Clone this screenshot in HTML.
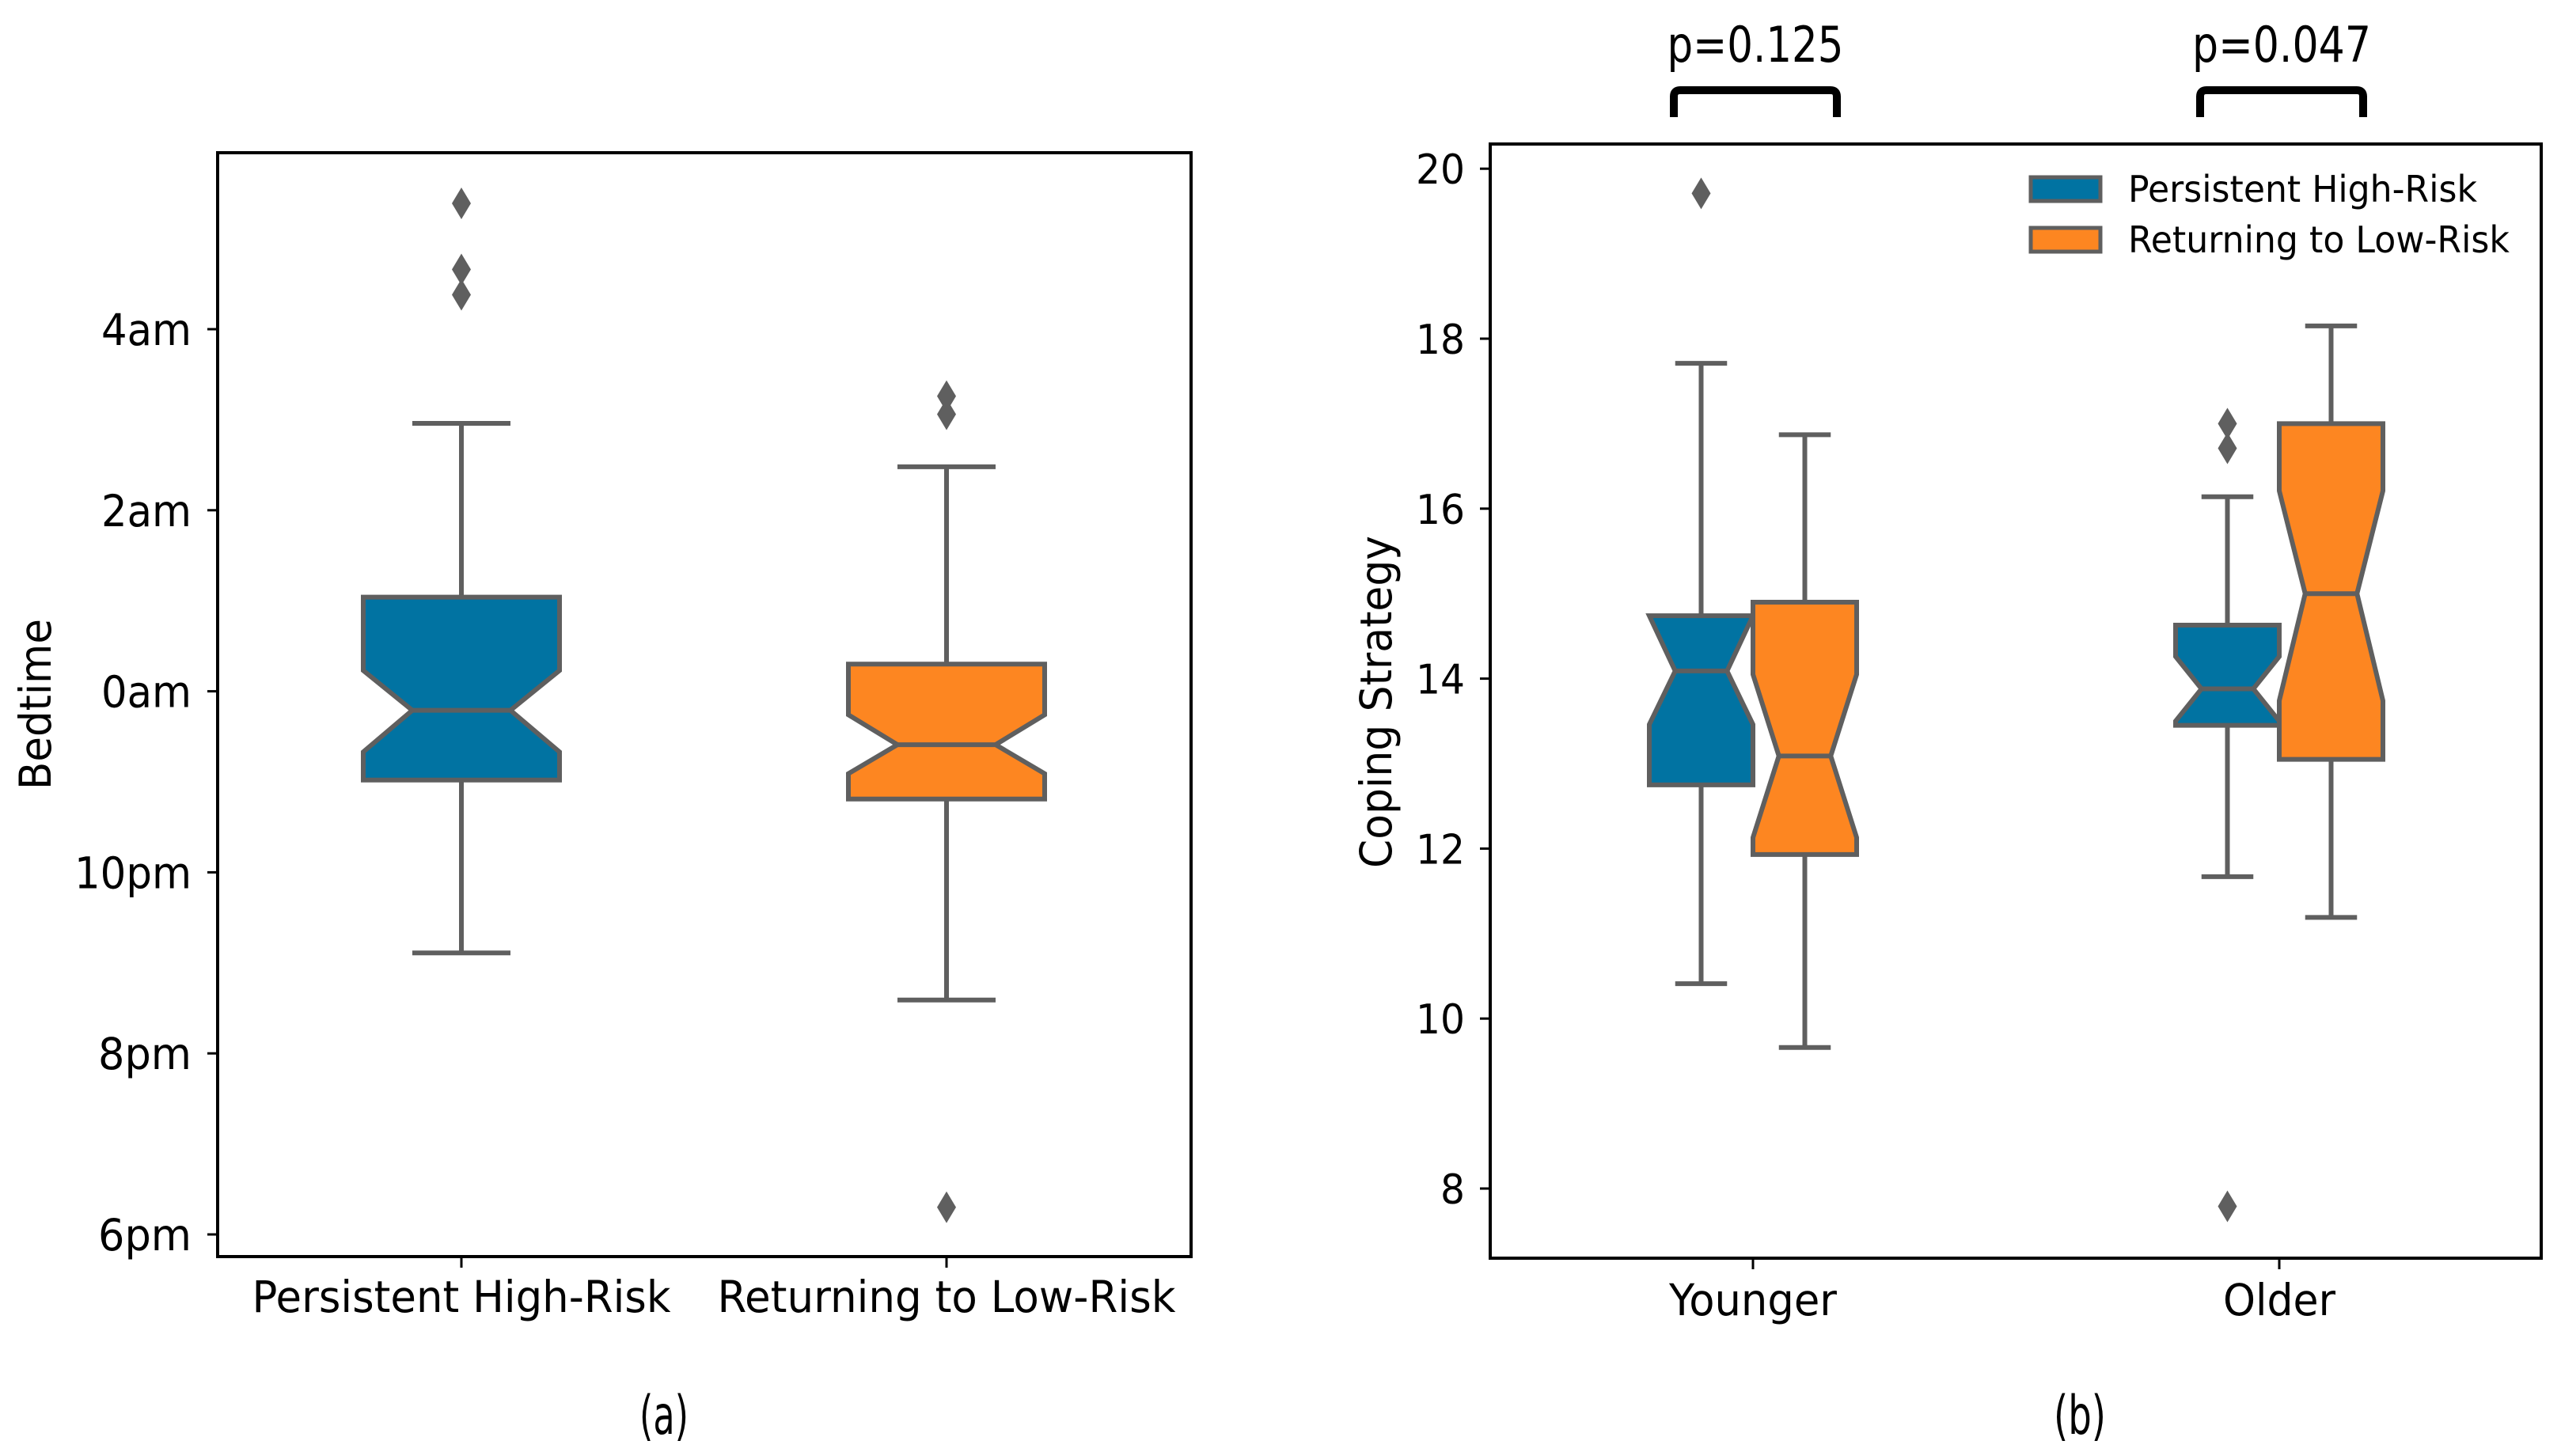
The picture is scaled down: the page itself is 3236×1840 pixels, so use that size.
<!DOCTYPE html>
<html><head><meta charset="utf-8"><style>
html,body{margin:0;padding:0;background:#fff;}
svg{display:block;}
text{font-family:"DejaVu Sans","Liberation Sans",sans-serif;fill:#000;}
</style></head><body>
<svg id="fig" width="3236" height="1840" viewBox="0 0 3236 1840" xmlns="http://www.w3.org/2000/svg">
<rect width="3236" height="1840" fill="#fff"/>
<g id="panelA"></g>
<g id="panelB"></g>
</svg>
<script>
// ---- Panel (a) data: bedtime in hours relative to midnight ----
const aCategories = ["Persistent High-Risk", "Returning to Low-Risk"];
const aQ1 = [-0.98, -1.19];
const aQ3 = [1.04, 0.30];
const aMedian = [-0.21, -0.59];
const aNotchLo = [-0.67, -0.91];
const aNotchHi = [0.23, -0.26];
const aWhiskLo = [-2.89, -3.41];
const aWhiskHi = [2.96, 2.48];
const aFliers = [[5.39, 4.66, 4.38], [3.26, 3.06, -5.70]];
const aTickVals = [4, 2, 0, -2, -4, -6];
const aTickLabels = ["4am", "2am", "0am", "10pm", "8pm", "6pm"];
const aTickWidths = [114, 114, 114, 148, 118, 118];

// ---- Panel (b) data: coping strategy ----
const bGroups = ["Younger", "Older"];
const bSeries = ["Persistent High-Risk", "Returning to Low-Risk"];
const bQ1 = [[12.75, 13.45], [11.93, 13.05]];
const bQ3 = [[14.74, 14.63], [14.90, 17.00]];
const bMedian = [[14.09, 13.88], [13.09, 15.00]];
const bNotchLo = [[13.46, 13.50], [12.13, 13.74]];
const bNotchHi = [[14.74, 14.26], [14.05, 16.21]];
const bWhiskLo = [[10.41, 11.67], [9.66, 11.19]];
const bWhiskHi = [[17.71, 16.14], [16.87, 18.15]];
const bFliers = [[[19.71], [17.0, 16.71, 7.79]], [[], []]];
const bTickVals = [8, 10, 12, 14, 16, 18, 20];
const bTickLabels = ["8", "10", "12", "14", "16", "18", "20"];
const bPValues = ["p=0.125", "p=0.047"];

const COLORS = ["#0173a2", "#fd8621"];
const EDGE = "#5f5f5f";
const NS = "http://www.w3.org/2000/svg";

function mk(tag, attrs, parent) {
  const e = document.createElementNS(NS, tag);
  for (const k in attrs) e.setAttribute(k, attrs[k]);
  parent.appendChild(e);
  return e;
}
function txt(s, attrs, parent) {
  const t = mk("text", attrs, parent);
  t.textContent = s;
  return t;
}

function drawBox(g, cx, w, q1, q3, med, nlo, nhi, wlo, whi, fl, color, yf, name) {
  const bg = mk("g", {}, g);
  
  
  const x0 = cx - w / 2, x1 = cx + w / 2, xi0 = cx - w / 4, xi1 = cx + w / 4;
  const lo = Math.max(nlo, q1), hi = Math.min(nhi, q3);
  // whiskers
  const wl = mk("line", {x1: cx, x2: cx, y1: yf(q1), y2: yf(wlo), stroke: EDGE, "stroke-width": 6}, bg);
  
  
  const wh = mk("line", {x1: cx, x2: cx, y1: yf(q3), y2: yf(whi), stroke: EDGE, "stroke-width": 6}, bg);
  
  
  const c1 = mk("line", {x1: cx - w / 4, x2: cx + w / 4, y1: yf(wlo), y2: yf(wlo), stroke: EDGE, "stroke-width": 6}, bg);
  
  
  const c2 = mk("line", {x1: cx - w / 4, x2: cx + w / 4, y1: yf(whi), y2: yf(whi), stroke: EDGE, "stroke-width": 6}, bg);
  
  
  // notched box
  const pts = [
    [x0, yf(q1)], [x0, yf(lo)], [xi0, yf(med)], [x0, yf(hi)], [x0, yf(q3)],
    [x1, yf(q3)], [x1, yf(hi)], [xi1, yf(med)], [x1, yf(lo)], [x1, yf(q1)]
  ].map(p => p.join(",")).join(" ");
  const poly = mk("polygon", {points: pts, fill: color, stroke: EDGE, "stroke-width": 6, "stroke-linejoin": "miter"}, bg);
  
  
  const m = mk("line", {x1: xi0, x2: xi1, y1: yf(med), y2: yf(med), stroke: EDGE, "stroke-width": 6}, bg);
  
  
  fl.forEach(v => {
    const y = yf(v);
    const d = mk("polygon", {points: `${cx},${y - 20} ${cx + 12},${y} ${cx},${y + 20} ${cx - 12},${y}`, fill: EDGE}, bg);
    
    
  });
}

// ================= Panel A =================
(function () {
  const g = document.getElementById("panelA");
  const L = 275, R = 1505, T = 193, B = 1588;
  const y0 = 873.6, hourPx = 114.4;
  const yf = h => y0 - h * hourPx;
  const xCenters = [583, 1196];
  const boxW = 248;
  for (let i = 0; i < aCategories.length; i++) {
    drawBox(g, xCenters[i], boxW, aQ1[i], aQ3[i], aMedian[i], aNotchLo[i], aNotchHi[i],
      aWhiskLo[i], aWhiskHi[i], aFliers[i], COLORS[i], yf, "box-" + (i === 0 ? "persistent-high-risk" : "returning-to-low-risk"));
  }
  const fr = mk("rect", {x: L, y: T, width: R - L, height: B - T, fill: "none", stroke: "#000", "stroke-width": 4}, g);
  
  
  aTickVals.forEach((v, i) => {
    const y = yf(v);
    const tk = mk("line", {x1: L - 13, x2: L, y1: y, y2: y, stroke: "#000", "stroke-width": 3}, g);
    
    
    const t = txt(aTickLabels[i], {x: 242, y: y + 20, "text-anchor": "end", "font-size": 55, textLength: aTickWidths[i], lengthAdjust: "spacingAndGlyphs"}, g);
    
    
  });
  const xw = [529, 579];
  aCategories.forEach((c, i) => {
    const tk = mk("line", {x1: xCenters[i], x2: xCenters[i], y1: B, y2: B + 14, stroke: "#000", "stroke-width": 3}, g);
    
    
    const t = txt(c, {x: xCenters[i], y: 1658, "text-anchor": "middle", "font-size": 55, textLength: xw[i], lengthAdjust: "spacingAndGlyphs"}, g);
    
    
  });
  const yl = txt("Bedtime", {x: 0, y: 0, "text-anchor": "middle", "font-size": 55, textLength: 216, lengthAdjust: "spacingAndGlyphs", transform: "translate(64,890) rotate(-90)"}, g);
  
  
  const cap = txt("(a)", {x: 839, y: 1812, "text-anchor": "middle", "font-size": 68, "font-family": "Liberation Sans, sans-serif", textLength: 62, lengthAdjust: "spacingAndGlyphs"}, g);
  
  
})();

// ================= Panel B =================
(function () {
  const g = document.getElementById("panelB");
  const L = 1883, R = 3211, T = 182, B = 1590;
  const unitPx = 107.4, y8 = 1502;
  const yf = v => y8 - (v - 8) * unitPx;
  const groupX = [2215, 2880];
  const boxW = 131;
  for (let s = 0; s < bSeries.length; s++) {
    for (let gi = 0; gi < bGroups.length; gi++) {
      const cx = groupX[gi] + (s === 0 ? -boxW / 2 : boxW / 2);
      drawBox(g, cx, boxW, bQ1[s][gi], bQ3[s][gi], bMedian[s][gi], bNotchLo[s][gi], bNotchHi[s][gi],
        bWhiskLo[s][gi], bWhiskHi[s][gi], bFliers[s][gi], COLORS[s], yf,
        "box-" + bGroups[gi].toLowerCase() + "-" + (s === 0 ? "persistent-high-risk" : "returning-to-low-risk"));
    }
  }
  const fr = mk("rect", {x: L, y: T, width: R - L, height: B - T, fill: "none", stroke: "#000", "stroke-width": 4}, g);
  
  
  bTickVals.forEach((v, i) => {
    const y = yf(v);
    const tk = mk("line", {x1: L - 13, x2: L, y1: y, y2: y, stroke: "#000", "stroke-width": 3}, g);
    
    
    const t = txt(bTickLabels[i], {x: 1851, y: y + 19, "text-anchor": "end", "font-size": 52, textLength: bTickLabels[i].length * 31, lengthAdjust: "spacingAndGlyphs"}, g);
    
    
  });
  const xw = [212, 142];
  bGroups.forEach((c, i) => {
    const tk = mk("line", {x1: groupX[i], x2: groupX[i], y1: B, y2: B + 14, stroke: "#000", "stroke-width": 3}, g);
    
    
    const t = txt(c, {x: groupX[i], y: 1662, "text-anchor": "middle", "font-size": 55, textLength: xw[i], lengthAdjust: "spacingAndGlyphs"}, g);
    
    
  });
  const yl = txt("Coping Strategy", {x: 0, y: 0, "text-anchor": "middle", "font-size": 55, textLength: 420, lengthAdjust: "spacingAndGlyphs", transform: "translate(1758,887) rotate(-90)"}, g);
  
  
  // significance brackets
  const pw = [223, 226];
  bPValues.forEach((p, i) => {
    const cx = groupX[i] + 3;
    const br = mk("path", {d: `M${cx - 103},148 L${cx - 103},122 Q${cx - 103},114 ${cx - 95},114 L${cx + 95},114 Q${cx + 103},114 ${cx + 103},122 L${cx + 103},148`, fill: "none", stroke: "#000", "stroke-width": 10}, g);
    
    
    const t = txt(p, {x: cx, y: 78, "text-anchor": "middle", "font-size": 62, "font-family": "Liberation Sans, sans-serif", textLength: pw[i], lengthAdjust: "spacingAndGlyphs"}, g);
    
    
  });
  // legend
  const lg = mk("g", {}, g);
  
  
  const lw = [441, 482];
  bSeries.forEach((s, i) => {
    const y = 224 + i * 64;
    const e = mk("g", {}, lg);
    
    
    mk("rect", {x: 2566, y: y, width: 88, height: 30, fill: COLORS[i], stroke: EDGE, "stroke-width": 5}, e);
    txt(s, {x: 2689, y: y + 31, "font-size": 46, textLength: lw[i], lengthAdjust: "spacingAndGlyphs"}, e);
  });
  const cap = txt("(b)", {x: 2628, y: 1812, "text-anchor": "middle", "font-size": 68, "font-family": "Liberation Sans, sans-serif", textLength: 66, lengthAdjust: "spacingAndGlyphs"}, g);
  
  
})();
</script>
</body></html>
